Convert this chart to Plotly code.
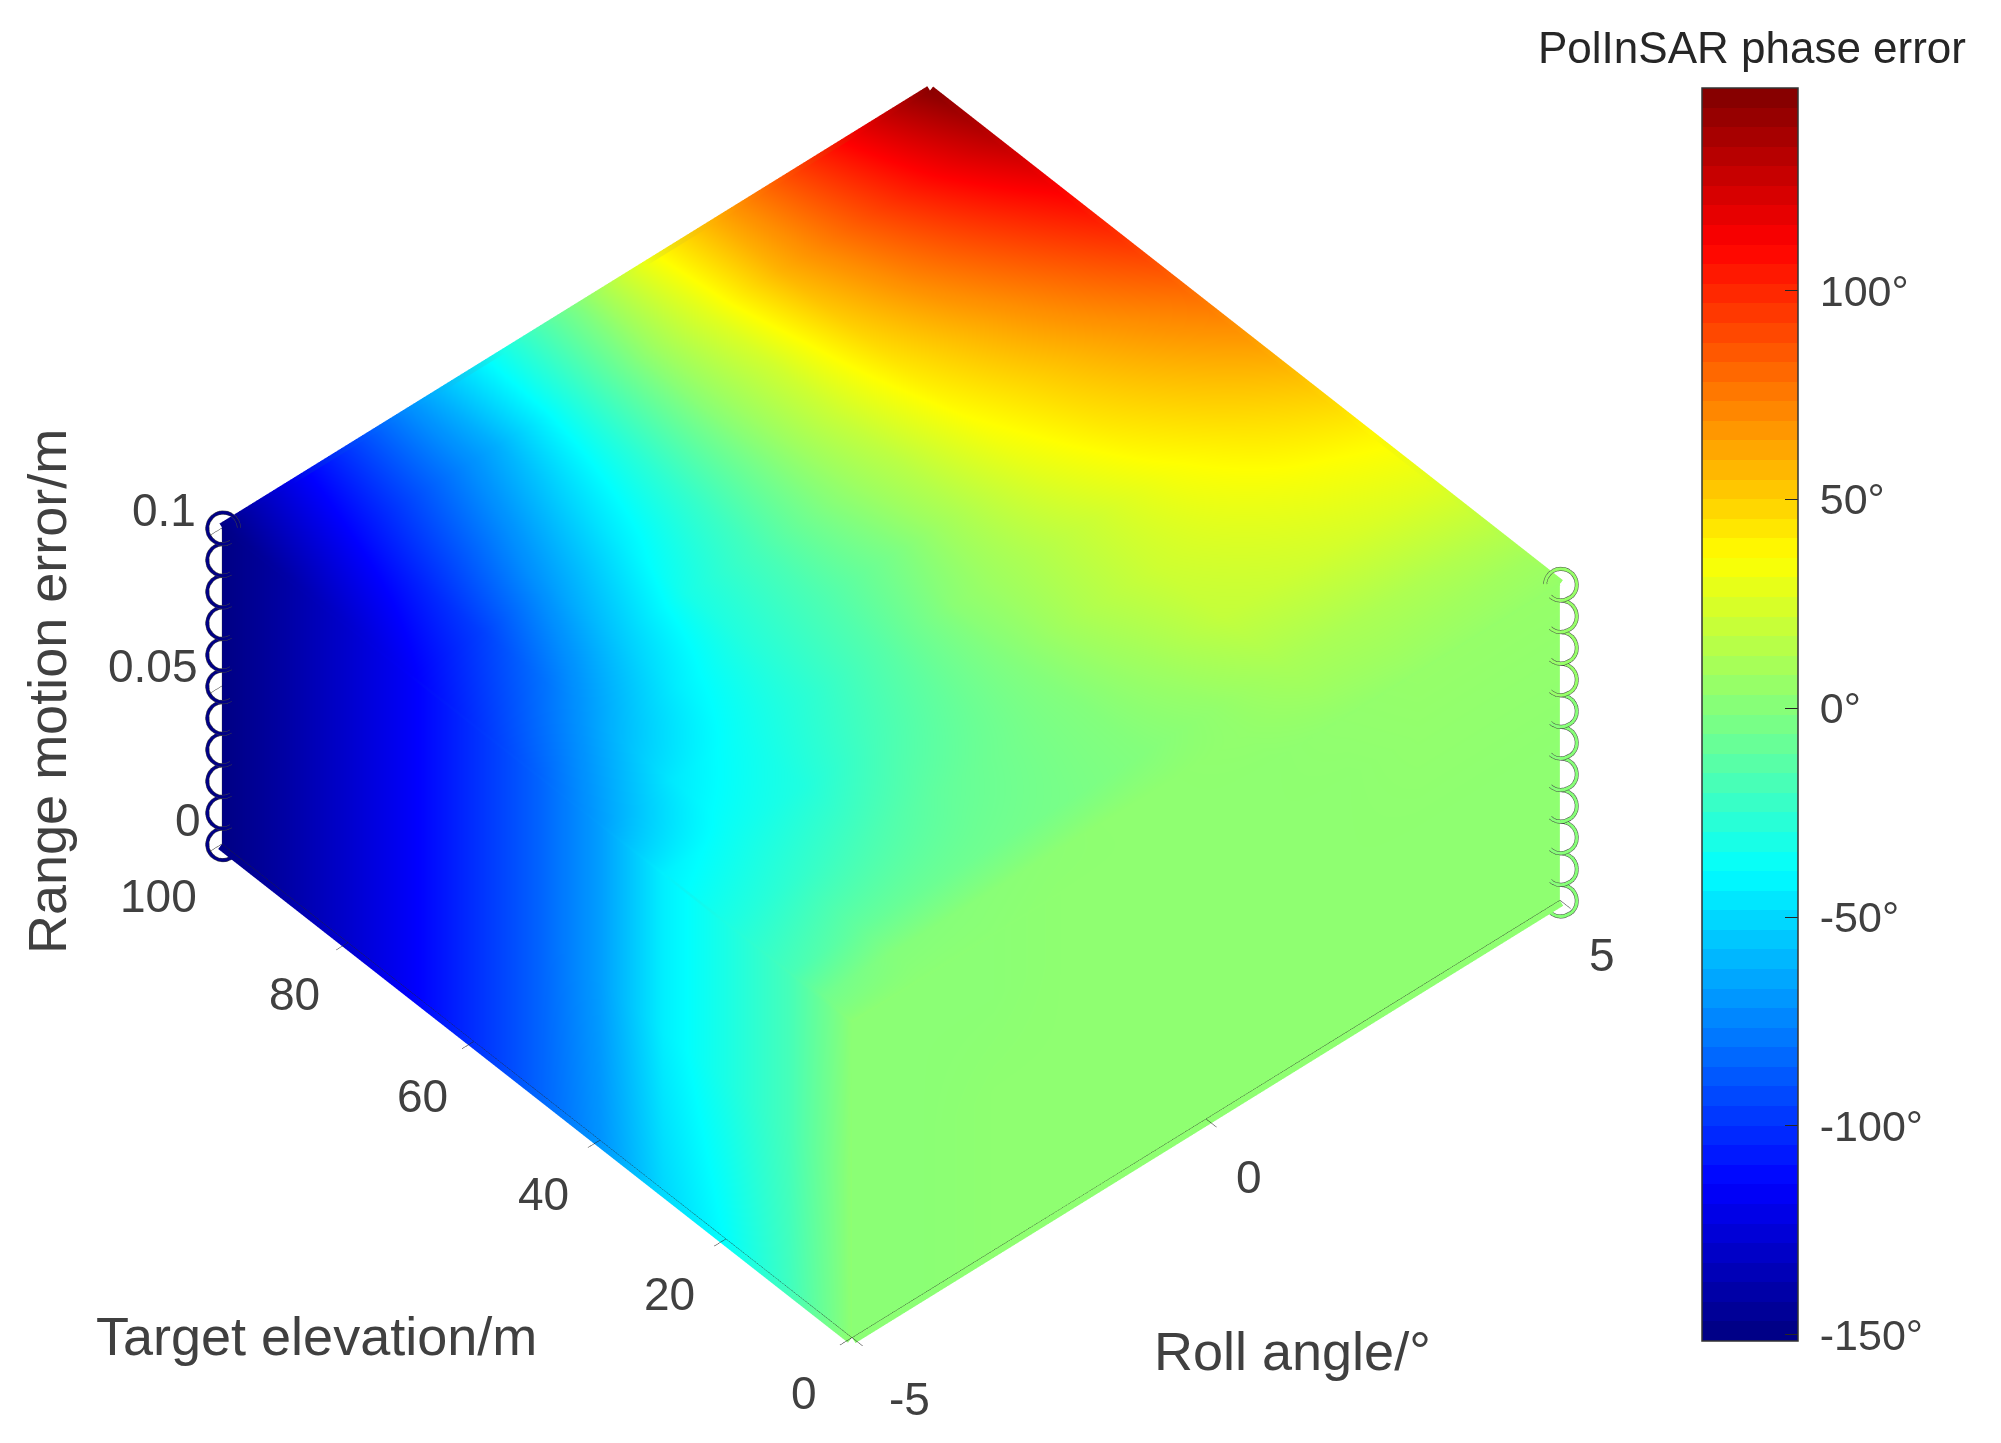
import plotly.graph_objects as go

roll = [-5, -4, -3, -2, -1, 0, 1, 2, 3, 4, 5]
elevation = [0, 10, 20, 30, 40, 50, 60, 70, 80, 90, 100]
elevation_top = [0, 5, 10, 20, 30, 40, 50, 60, 70, 80, 90, 100]
motion = [0, 0.01, 0.02, 0.03, 0.04, 0.05, 0.06, 0.07, 0.08, 0.09, 0.1]
left_z = [0, 0.05, 0.1]
front_z = [0, 0.05, 0.08, 0.1]

# phase error on the top face (z = 0.1): one row per elevation_top, one column per roll
top_face = [
    [2, 2, 2, 3, 3, 3, 3, 4, 5, 5, 5],
    [-6, 0, 1, 2, 3, 3, 4, 7, 8, 8, 8],
    [-18, -9, -7, -5, -3, 0, 4, 10, 11, 12, 14],
    [-31, -24, -17, -10, -5, 0, 8, 18, 21, 24, 27],
    [-43, -35, -29, -18, -9, 1, 12, 21, 27, 33, 38],
    [-67, -45, -35, -25, -13, 2, 11, 21, 33, 43, 52],
    [-85, -62, -43, -28, -16, -3, 12, 28, 42, 54, 66],
    [-100, -80, -55, -32, -18, 0, 15, 35, 50, 65, 80],
    [-115, -95, -67, -43, -23, 0, 20, 42, 60, 78, 96],
    [-128, -104, -78, -52, -27, 1, 22, 50, 72, 92, 112],
    [-140, -112, -87, -62, -30, 1, 27, 58, 82, 106, 130],
    [-150, -120, -91, -62, -32, -2, 30, 60, 88, 116, 145],
]
# roll = -5 face: one row per left_z, one column per elevation
left_face = [
    [3, -20, -38, -50, -70, -85, -100, -115, -128, -140, -150],
    [3, -18, -31, -43, -67, -85, -100, -115, -128, -140, -150],
    [2, -18, -31, -43, -67, -85, -100, -115, -128, -140, -150],
]
# elevation = 0 face: one row per front_z, one column per roll
front_face = [
    [2, 2, 3, 3, 3, 3, 3, 3, 3, 3, 3],
    [2, 2, 3, 3, 3, 3, 3, 3, 3, 3, 3],
    [2, 2, 2, 3, 3, 3, 3, 3, 4, 4, 4],
    [2, 2, 2, 3, 3, 3, 3, 4, 5, 5, 5],
]
top_left_seam = [2, -18, -31, -43, -67, -85, -100, -115, -128, -140, -150]
right_edge_top = [5, 14, 27, 38, 52, 66, 80, 96, 112, 130, 145]
left_edge_values = [-150, -150, -150, -150, -150, -150, -150, -150, -150, -150, -150]
right_edge_values = [3, 3, 3, 3, 3, 3, 3, 4, 4, 4, 5]
cbar_ticks = [-150, -100, -50, 0, 50, 100]
cbar_labels = ["\u00a0-150°", "\u00a0-100°", "\u00a0-50°", "\u00a00°", "\u00a050°", "\u00a0100°"]
roll_ticks = [-5, 0, 5]
elevation_ticks = [0, 20, 40, 60, 80, 100]
motion_ticks = [0, 0.05, 0.1]
cbar_min, cbar_max = -151.5, 148.5

W, H, PAGE = 1985, 1427, 8
def fx(px):
    return (px - PAGE) / W
def fy(py):
    return 1 - (py - PAGE) / H

def jet(f):
    def ch(c):
        return max(0.0, min(1.0, 1.5 - abs(4 * f - c)))
    return f"rgb({round(255*ch(3))},{round(255*ch(2))},{round(255*ch(1))})"

levels = 64
jet64 = []
for i in range(levels):
    c = jet((i + 0.5) / levels)
    jet64.append([i / levels, c])
    jet64.append([(i + 1) / levels, c])
jet_smooth = [[i / 32, jet(i / 32)] for i in range(33)]

flat = dict(ambient=1, diffuse=0, specular=0, roughness=1, fresnel=0)
common = dict(colorscale=jet_smooth, cmin=cbar_min, cmax=cbar_max, lighting=flat, hoverinfo="skip", showscale=False)
n_roll, n_elev = len(roll), len(elevation)

fig = go.Figure()
fig.add_trace(go.Surface(
    x=[roll] * len(elevation_top), y=[[e] * n_roll for e in elevation_top],
    z=[[0.1] * n_roll] * len(elevation_top), surfacecolor=top_face, **common))
fig.add_trace(go.Surface(
    x=[[-5] * n_elev] * len(left_z), y=[elevation] * len(left_z), z=[[h] * n_elev for h in left_z],
    surfacecolor=left_face, **common))
fig.add_trace(go.Surface(
    x=[roll] * len(front_z), y=[[0] * n_roll] * len(front_z), z=[[h] * n_roll for h in front_z],
    surfacecolor=front_face, **common))

rim = dict(mode="lines", hoverinfo="skip", showlegend=False)
scale = dict(colorscale=jet_smooth, cmin=cbar_min, cmax=cbar_max)
fig.add_trace(go.Scatter3d(x=roll, y=[0] * n_roll, z=[0] * n_roll,
    line=dict(width=26, color=front_face[0], **scale), **rim))
fig.add_trace(go.Scatter3d(x=[-5] * n_elev, y=elevation, z=[0] * n_elev,
    line=dict(width=26, color=left_face[0], **scale), **rim))
fig.add_trace(go.Scatter3d(x=roll, y=[100] * n_roll, z=[0.1] * n_roll,
    line=dict(width=20, color=top_face[-1], **scale), **rim))
fig.add_trace(go.Scatter3d(x=[5] * n_elev, y=elevation, z=[0.1] * n_elev,
    line=dict(width=20, color=right_edge_top, **scale), **rim))
# seams between the faces
fig.add_trace(go.Scatter3d(x=[-5] * n_elev, y=elevation, z=[0.1] * n_elev,
    line=dict(width=5, color=top_left_seam, **scale), **rim))
fig.add_trace(go.Scatter3d(x=roll, y=[0] * n_roll, z=[0.1] * n_roll,
    line=dict(width=5, color=front_face[-1], **scale), **rim))
fig.add_trace(go.Scatter3d(x=[-5] * 11, y=[100] * 11, z=motion, mode="markers", hoverinfo="skip", showlegend=False,
    marker=dict(symbol="circle-open", size=20, color=left_edge_values, line=dict(width=1), **scale)))
fig.add_trace(go.Scatter3d(x=[5] * 11, y=[0] * 11, z=motion, mode="markers", hoverinfo="skip", showlegend=False,
    marker=dict(symbol="circle-open", size=20, color=right_edge_values, line=dict(width=1), colorscale=jet64,
                cmin=cbar_min, cmax=cbar_max, showscale=True, colorbar=dict(
        x=fx(1702), xanchor="left", y=fy(88), yanchor="top",
        thickness=96, thicknessmode="pixels", len=1253, lenmode="pixels", xpad=0, ypad=0,
        tickmode="array", tickvals=cbar_ticks, ticktext=cbar_labels, ticks="inside", ticklen=13, tickcolor="#262626",
        outlinecolor="#333333", outlinewidth=1.5,
        tickfont=dict(family="Liberation Sans", size=43, color="#404040")))))

ax = dict(showbackground=False, showgrid=False, zeroline=False, showspikes=False, showticklabels=False,
          showline=True, linecolor="#262626", linewidth=1, ticks="outside", ticklen=16,
          tickcolor="#262626", title=dict(text=""))

tick_font = dict(family="Liberation Sans", size=46, color="#404040")
def tick_note(x, y, z, text, dx, dy):
    return dict(x=x, y=y, z=z, text=text, showarrow=False, xshift=dx, yshift=-dy, font=tick_font)

scene_notes = []
for v, (dx, dy) in zip(roll_ticks, [(57, 61), (43, 58), (42, 55)]):
    scene_notes.append(tick_note(v, 0, 0, str(v), dx, dy))
for v, (dx, dy) in zip(elevation_ticks, [(-48, 55), (-57, 55), (-57, 54), (-52, 55), (-54, 51), (-64, 52)]):
    scene_notes.append(tick_note(-5, v, 0, str(v), dx, dy))
for v, (dx, dy) in zip(motion_ticks, [(-34, -24), (-69, -20), (-58, -18)]):
    scene_notes.append(tick_note(-5, 100, v, str(v), dx, dy))

title_font = dict(family="Liberation Sans", size=54, color="#404040")
def note(text, px, py, font, **kw):
    return dict(text=text, x=fx(px), y=fy(py), xref="paper", yref="paper", showarrow=False,
                xanchor="center", yanchor="middle", font=font, **kw)

fig.update_layout(
    width=W, height=H, paper_bgcolor="white",
    margin=dict(l=0, r=0, t=0, b=0, autoexpand=False), showlegend=False,
    scene=dict(
        domain=dict(x=[0, 0.8897], y=[0.0196, 0.9909]),
        aspectmode="manual", aspectratio=dict(x=1.366, y=1.369, z=0.635),
        camera=dict(projection=dict(type="orthographic"), up=dict(x=0, y=0, z=1),
                    center=dict(x=0, y=0, z=0), eye=dict(x=-0.4768, y=-0.537, z=0.696)),
        xaxis=dict(ax, range=[-5, 5], tickvals=roll_ticks),
        yaxis=dict(ax, range=[0, 100], tickvals=elevation_ticks),
        zaxis=dict(ax, range=[0, 0.1], tickvals=motion_ticks),
        annotations=scene_notes,
    ),
    annotations=[
        note("PolInSAR phase error", 1752, 47, dict(family="Liberation Sans", size=44, color="#262626")),
        note("Target elevation/m", 316, 1336, title_font),
        note("Roll angle/°", 1292, 1351, title_font),
        note("Range motion error/m", 47, 692, title_font, textangle=-90),
    ],
)
fig.write_html("out.html")
